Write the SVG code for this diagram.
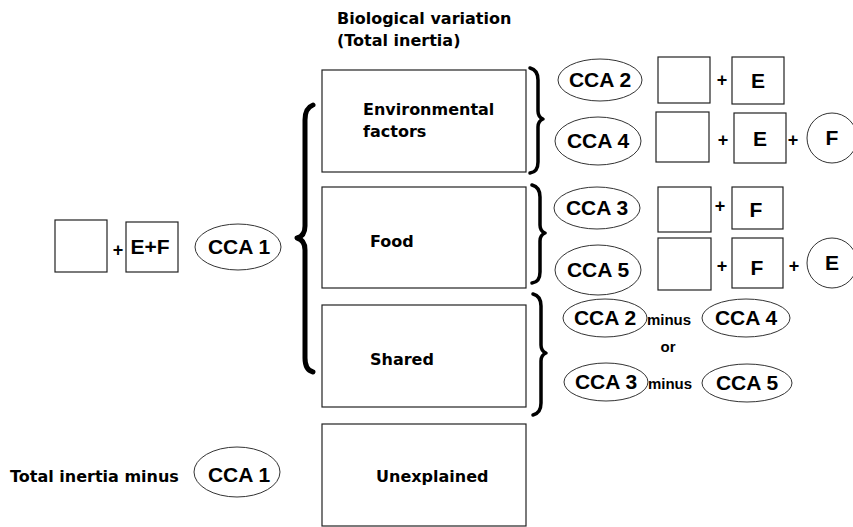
<svg xmlns="http://www.w3.org/2000/svg" width="853" height="527" viewBox="0 0 853 527">
<style>
text{font-family:"Liberation Sans",Arial,sans-serif;font-weight:bold;fill:#000}
.t{font-family:"DejaVu Sans","Liberation Sans",sans-serif;font-size:16px}
.c{font-size:21px;text-anchor:middle}
.p{font-size:18px;text-anchor:middle}
.m{font-size:15px;text-anchor:middle}
.box{fill:#fff;stroke:#222;stroke-width:1.2}
.ell{fill:#fff;stroke:#333;stroke-width:1}
.br{fill:none;stroke:#000;stroke-linecap:round;stroke-linejoin:round}
</style>
<rect width="853" height="527" fill="#fff"/>
<g id="title">
<text class="t" x="337" y="24">Biological variation</text>
<text class="t" x="337" y="46">(Total inertia)</text>
</g>
<g id="env"><rect class="box" x="322" y="70" width="204" height="102"/>
<text class="t" x="363" y="115">Environmental</text><text class="t" x="363" y="137">factors</text></g>
<g id="food"><rect class="box" x="322" y="187" width="204" height="101"/>
<text class="t" x="370" y="247">Food</text></g>
<g id="shared"><rect class="box" x="322" y="305" width="204" height="102"/>
<text class="t" x="370" y="365">Shared</text></g>
<g id="unexplained"><rect class="box" x="322" y="424" width="204" height="102"/>
<text class="t" x="376" y="482">Unexplained</text></g>
<g id="left">
<rect class="box" x="55" y="220" width="52" height="52"/>
<text class="p" x="118" y="256">+</text>
<rect class="box" x="126" y="222" width="52" height="50"/>
<text class="c" x="150" y="254">E+F</text>
<ellipse class="ell" cx="238" cy="247" rx="43" ry="23"/>
<text class="c" x="239" y="254">CCA 1</text>
</g>
<g id="bottom-left">
<text class="t" x="10" y="482">Total inertia minus</text>
<ellipse class="ell" cx="237" cy="472" rx="43" ry="25"/>
<text class="c" x="239" y="482">CCA 1</text>
</g>
<g id="braces">
<path class="br" stroke-width="5" d="M313,105 Q305,108 305,120 L305,226 Q305,236 297,238 Q305,240 305,250 L305,358 Q305,370 313,372"/>
<path class="br" stroke-width="3.5" d="M530,68 Q538,70 538,80 L538,111 Q538,117 543,119 Q538,121 538,127 L538,162 Q538,172 530,173"/>
<path class="br" stroke-width="3.5" d="M532,185 Q540,187 540,197 L540,225 Q540,231 545,233 Q540,235 540,241 L540,272 Q540,282 532,283"/>
<path class="br" stroke-width="3.5" d="M533,294 Q541,296 541,306 L541,345 Q541,351 546,353 Q541,355 541,361 L541,403 Q541,413 533,415"/>
</g>
<g id="cca2">
<ellipse class="ell" cx="600" cy="80" rx="42" ry="21"/><text class="c" x="600" y="87">CCA 2</text>
<rect class="box" x="658" y="57" width="52" height="46"/><text class="p" x="722" y="86">+</text>
<rect class="box" x="732" y="57" width="52" height="47"/><text class="c" x="758" y="88">E</text>
</g>
<g id="cca4">
<ellipse class="ell" cx="598" cy="141" rx="43" ry="24"/><text class="c" x="598" y="148">CCA 4</text>
<rect class="box" x="656" y="112" width="53" height="50"/><text class="p" x="723" y="146">+</text>
<rect class="box" x="734" y="113" width="52" height="50"/><text class="c" x="760" y="146">E</text>
<text class="p" x="793" y="146">+</text>
<circle class="ell" cx="832" cy="138" r="25"/><text class="c" x="832" y="145">F</text>
</g>
<g id="cca3">
<ellipse class="ell" cx="597" cy="208" rx="43" ry="21"/><text class="c" x="597" y="215">CCA 3</text>
<rect class="box" x="658" y="187" width="53" height="45"/><text class="p" x="720" y="212">+</text>
<rect class="box" x="732" y="187" width="51" height="42"/><text class="c" x="756" y="217">F</text>
</g>
<g id="cca5">
<ellipse class="ell" cx="598" cy="270" rx="43" ry="25"/><text class="c" x="598" y="277">CCA 5</text>
<rect class="box" x="658" y="238" width="53" height="52"/><text class="p" x="722" y="272">+</text>
<rect class="box" x="732" y="238" width="51" height="50"/><text class="c" x="757" y="275">F</text>
<text class="p" x="794" y="272">+</text>
<circle class="ell" cx="832" cy="263" r="25"/><text class="c" x="832" y="270">E</text>
</g>
<g id="shared-formula">
<ellipse class="ell" cx="605" cy="318" rx="42" ry="19"/><text class="c" x="605" y="325">CCA 2</text>
<text class="m" x="669" y="325">minus</text>
<ellipse class="ell" cx="746" cy="318" rx="44" ry="19"/><text class="c" x="746" y="325">CCA 4</text>
<text class="m" x="668" y="352">or</text>
<ellipse class="ell" cx="606" cy="382" rx="42" ry="19"/><text class="c" x="606" y="389">CCA 3</text>
<text class="m" x="670" y="389">minus</text>
<ellipse class="ell" cx="747" cy="383" rx="45" ry="19"/><text class="c" x="747" y="390">CCA 5</text>
</g>
</svg>
